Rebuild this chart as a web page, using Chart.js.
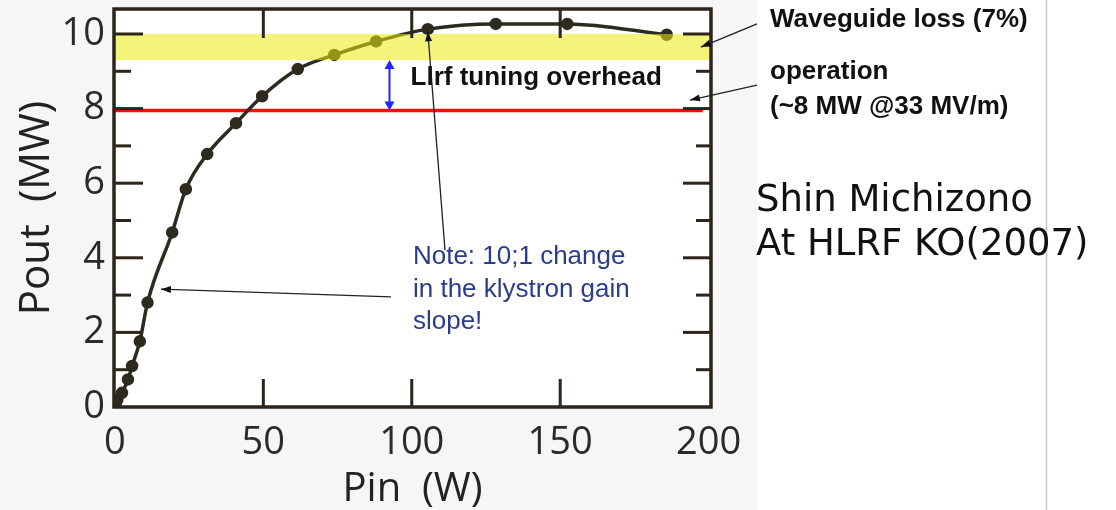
<!DOCTYPE html>
<html>
<head>
<meta charset="utf-8">
<title>Klystron Pout vs Pin</title>
<script src="https://cdn.jsdelivr.net/npm/chart.js@4.4.0/dist/chart.umd.min.js"></script>
<style>
  body { margin: 0; background: #ffffff; }
  #wrap { width: 1116px; height: 510px; }
</style>
</head>
<body>
<div id="wrap"><canvas id="klystronChart" width="1116" height="510"></canvas></div>
<script>
// Klystron transfer curve (Pin in W, Pout in MW)
const pinW = [0.3, 0.8, 2.4, 4.4, 5.8, 8.4, 11.0, 19.3, 23.9, 31.1, 40.8, 49.6, 61.6, 73.9, 88.0, 105.4, 128.3, 152.4, 185.9];
const poutMW = [0.10, 0.19, 0.38, 0.74, 1.10, 1.76, 2.80, 4.68, 5.84, 6.78, 7.61, 8.33, 9.06, 9.44, 9.80, 10.13, 10.27, 10.27, 9.98];

const xTicks = [0, 50, 100, 150, 200];
const yTicks = [0, 2, 4, 6, 8, 10];

// operation level (~8 MW) and waveguide loss band
const operationLevel = 7.95;
const operationPin = [-0.3, 198];
const waveguideBand = [9.3, 10.0];
const overheadPin = 92.5;

// annotation arrows, in data units (from -> to)
const noteArrows = [
    { from: [111.2, 4.21], to: [105.4, 10.07] },
    { from: [93.0, 2.95], to: [15.5, 3.16] },
    { from: [216.3, 10.27], to: [197.4, 9.65] },
    { from: [216.3, 8.63], to: [193.7, 8.23] }
];

const noteLines = ['Note: 10;1 change', 'in the klystron gain', 'slope!'];

function drawLine(ctx, x1, y1, x2, y2) {
    ctx.beginPath();
    ctx.moveTo(x1, y1);
    ctx.lineTo(x2, y2);
    ctx.stroke();
}

function arrowHead(ctx, x1, y1, x2, y2, len, half) {
    const a = Math.atan2(y2 - y1, x2 - x1);
    const bx = x2 - len * Math.cos(a), by = y2 - len * Math.sin(a);
    ctx.beginPath();
    ctx.moveTo(x2, y2);
    ctx.lineTo(bx + half * Math.sin(a), by - half * Math.cos(a));
    ctx.lineTo(bx - half * Math.sin(a), by + half * Math.cos(a));
    ctx.closePath();
    ctx.fill();
}

const backdrop = {
    id: 'backdrop',
    beforeDraw(chart) {
        const { ctx, chartArea: a } = chart;
        ctx.save();
        ctx.fillStyle = '#ffffff';
        ctx.fillRect(0, 0, chart.width, chart.height);
        ctx.fillStyle = '#f6f6f6';
        ctx.fillRect(0, 0, 757, chart.height);
        ctx.fillStyle = '#ffffff';
        ctx.fillRect(a.left, a.top, a.right - a.left, a.bottom - a.top);
        // slide border on the right
        ctx.strokeStyle = '#c6c6c6';
        ctx.lineWidth = 1.5;
        drawLine(ctx, 1046.5, 0, 1046.5, chart.height);
        ctx.restore();
    }
};

const frameAndNotes = {
    id: 'frameAndNotes',
    afterDatasetsDraw(chart) {
        const { ctx, chartArea: a, scales: { x, y } } = chart;
        ctx.save();

        // waveguide loss band, laid over the curve
        const bTop = y.getPixelForValue(waveguideBand[1]);
        const bBot = y.getPixelForValue(waveguideBand[0]);
        ctx.fillStyle = 'rgba(235, 235, 15, 0.55)';
        ctx.fillRect(a.left, bTop, a.right - a.left, bBot - bTop);

        // frame
        ctx.strokeStyle = '#2b2619';
        ctx.lineWidth = 3.5;
        ctx.strokeRect(a.left, a.top, a.right - a.left, a.bottom - a.top);

        // inward tick marks
        ctx.lineWidth = 3;
        [50, 100, 150].forEach(v => {
            const px = x.getPixelForValue(v);
            drawLine(ctx, px, a.bottom, px, a.bottom - 28);
            drawLine(ctx, px, a.top, px, a.top + 29);
        });
        for (let v = 1; v <= 10; v++) {
            const py = y.getPixelForValue(v);
            const major = v % 2 === 0;
            drawLine(ctx, a.left, py, a.left + (major ? 29 : 17), py);
            drawLine(ctx, a.right, py, a.right - (major ? 28 : 15), py);
        }

        // Llrf overhead double arrow
        const ox = x.getPixelForValue(overheadPin);
        const oy1 = bBot, oy2 = y.getPixelForValue(operationLevel);
        ctx.strokeStyle = '#2424ff';
        ctx.fillStyle = '#2424ff';
        ctx.lineWidth = 2;
        drawLine(ctx, ox, oy1 + 4, ox, oy2 - 4);
        arrowHead(ctx, ox, oy2, ox, oy1, 9, 5);
        arrowHead(ctx, ox, oy1, ox, oy2, 9, 5);

        // pointer arrows
        ctx.strokeStyle = '#222222';
        ctx.fillStyle = '#111111';
        ctx.lineWidth = 1.3;
        noteArrows.forEach(n => {
            const x1 = x.getPixelForValue(n.from[0]), y1 = y.getPixelForValue(n.from[1]);
            const x2 = x.getPixelForValue(n.to[0]), y2 = y.getPixelForValue(n.to[1]);
            drawLine(ctx, x1, y1, x2, y2);
            arrowHead(ctx, x1, y1, x2, y2, 10, 3.5);
        });

        // texts
        ctx.textBaseline = 'middle';
        ctx.textAlign = 'left';
        ctx.fillStyle = '#111111';
        ctx.font = 'bold 26px "Liberation Sans", Arial, sans-serif';
        ctx.fillText('Llrf tuning overhead', x.getPixelForValue(99.6), y.getPixelForValue(8.82));
        ctx.fillText('Waveguide loss (7%)', 770, 20);
        ctx.fillText('operation', 770, 72);
        ctx.fillText('(~8 MW @33 MV/m)', 770, 107);

        ctx.fillStyle = '#2a3c8c';
        ctx.font = '26px "Liberation Sans", Arial, sans-serif';
        const nx = x.getPixelForValue(100.4);
        const ny = y.getPixelForValue(4.02);
        noteLines.forEach((t, i) => ctx.fillText(t, nx, ny + i * 32.5));

        ctx.fillStyle = '#111111';
        ctx.font = '37px "DejaVu Sans", Verdana, sans-serif';
        ctx.fillText('Shin Michizono', 756, 201);
        ctx.fillText('At HLRF KO(2007)', 756, 245);

        ctx.restore();
    }
};

const tickFont = { family: '"Open Sans", "Noto Sans", sans-serif', size: 38 };
const titleFont = { family: '"Open Sans", "Noto Sans", sans-serif', size: 40, lineHeight: 1 };

new Chart(document.getElementById('klystronChart'), {
    type: 'scatter',
    data: {
        datasets: [{
            label: 'Pout',
            data: pinW.map((p, i) => ({ x: p, y: poutMW[i] })),
            showLine: true,
            borderColor: '#2d2a1e',
            borderWidth: 3.5,
            pointRadius: 4.5,
            pointBackgroundColor: '#2d2a1e',
            pointBorderColor: '#2d2a1e',
            cubicInterpolationMode: 'monotone'
        }, {
            label: 'operation',
            data: operationPin.map(p => ({ x: p, y: operationLevel })),
            showLine: true,
            borderColor: '#ff0a0a',
            borderWidth: 3.5,
            pointRadius: 0
        }]
    },
    options: {
        responsive: false,
        animation: false,
        layout: { padding: { top: 9, right: 405, left: 0, bottom: 0 } },
        plugins: {
            legend: { display: false },
            tooltip: { enabled: false }
        },
        scales: {
            x: {
                type: 'linear',
                min: -0.3,
                max: 200.8,
                afterBuildTicks: s => { s.ticks = xTicks.map(v => ({ value: v })); },
                afterFit: s => { s.height = 103; s.paddingLeft = 0; s.paddingRight = 0; },
                grid: { display: false, drawTicks: false },
                border: { display: false },
                ticks: { font: tickFont, color: '#2a2a2a', padding: 13, maxRotation: 0, autoSkip: false },
                title: { display: true, text: 'Pin  (W)', font: titleFont, color: '#222222', padding: 0 }
            },
            y: {
                min: 0,
                max: 10.67,
                afterBuildTicks: s => { s.ticks = yTicks.map(v => ({ value: v })); },
                afterFit: s => { s.width = 114; s.paddingTop = 0; s.paddingBottom = 0; },
                grid: { display: false, drawTicks: false },
                border: { display: false },
                ticks: { font: tickFont, color: '#2a2a2a', padding: 9, autoSkip: false },
                title: { display: true, text: 'Pout  (MW)', font: { family: titleFont.family, size: 42, lineHeight: 1 }, color: '#222222', padding: { top: 16, bottom: 0 } }
            }
        }
    },
    plugins: [backdrop, frameAndNotes]
});
</script>
</body>
</html>
